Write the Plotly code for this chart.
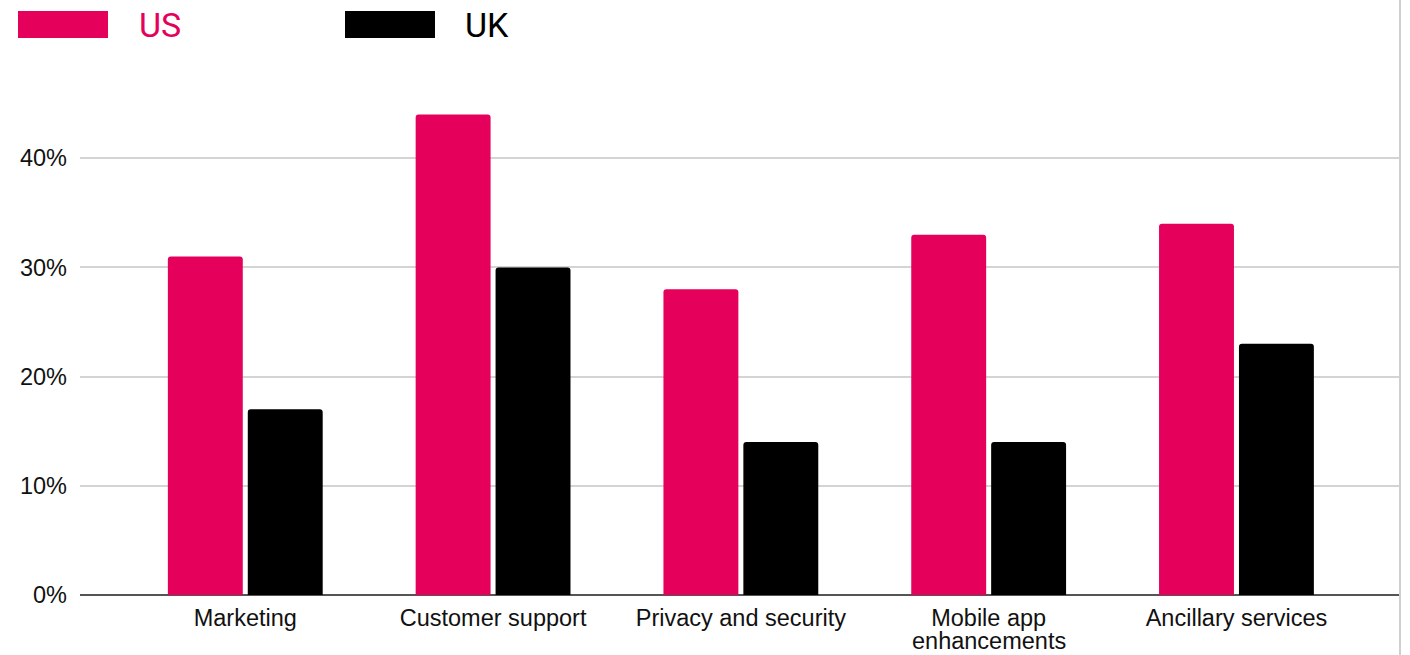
import plotly.graph_objects as go

categories = ["Marketing", "Customer support", "Privacy and security",
              "Mobile app enhancements", "Ancillary services"]
x_ticklines_1 = ["Marketing", "Customer support", "Privacy and security",
                 "Mobile app", "Ancillary services"]
x_ticklines_2 = ["", "", "", "enhancements", ""]
us_values = [0.31, 0.44, 0.28, 0.33, 0.34]
uk_values = [0.17, 0.30, 0.14, 0.14, 0.23]
series_names = ["US", "UK"]
y_tickvals = [0, 0.1, 0.2, 0.3, 0.4]
y_ticktext = ["0%", "10%", "20%", "30%", "40%"]

PINK = "#E5005B"
BLACK = "#000000"

W, H = 1410, 655
ML, MR, MT, MB = 80, 10, 50, 60
PW = W - ML - MR
PH = H - MT - MB


def px_x(p):
    return (p - ML) / PW


def px_y(p):
    return (H - MB - p) / PH


fig = go.Figure()
fig.add_trace(go.Bar(x=categories, y=us_values, name=series_names[0],
                     marker=dict(color=PINK, cornerradius=3, line=dict(width=0)),
                     showlegend=False))
fig.add_trace(go.Bar(x=categories, y=uk_values, name=series_names[1],
                     marker=dict(color=BLACK, cornerradius=3, line=dict(width=0)),
                     showlegend=False))

shapes = [
    dict(type="rect", xref="paper", yref="paper", x0=px_x(18), x1=px_x(108),
         y0=px_y(38), y1=px_y(11), fillcolor=PINK, line=dict(width=0)),
    dict(type="rect", xref="paper", yref="paper", x0=px_x(345), x1=px_x(435),
         y0=px_y(38), y1=px_y(11), fillcolor=BLACK, line=dict(width=0)),
    dict(type="line", xref="paper", yref="paper", x0=1, x1=1,
         y0=px_y(0), y1=px_y(H), line=dict(color="#cfcfcf", width=2)),
]
annotations = [
    dict(text=series_names[0], xref="paper", yref="paper", x=px_x(137), y=px_y(25),
         xanchor="left", yanchor="middle", showarrow=False,
         font=dict(family="Roboto", size=34, color=PINK)),
    dict(text=series_names[1], xref="paper", yref="paper", x=px_x(463), y=px_y(25),
         xanchor="left", yanchor="middle", showarrow=False,
         font=dict(family="Roboto", size=34, color=BLACK)),
]
for cat, line2 in zip(categories, x_ticklines_2):
    if line2:
        annotations.append(dict(text=line2, xref="x", yref="paper", x=cat,
                                y=px_y(641), xanchor="center", yanchor="middle",
                                showarrow=False,
                                font=dict(size=23.5, color="#111111")))

fig.update_layout(
    width=W, height=H,
    margin=dict(l=ML, r=MR, t=MT, b=MB, autoexpand=False),
    paper_bgcolor="white", plot_bgcolor="white",
    barmode="group", bargap=0.355, bargroupgap=0.0625,
    font=dict(family="Liberation Sans, Arial", size=23, color="#222222"),
    shapes=shapes, annotations=annotations,
    showlegend=False,
)
fig.update_xaxes(range=[-0.667, 4.66], showgrid=False, showline=False,
                 tickmode="array", tickvals=categories, ticktext=x_ticklines_1,
                 ticks="", tickfont=dict(size=23.5, color="#111111"),
                 automargin=False, ticklabelstandoff=6,
                 fixedrange=True)
fig.update_yaxes(range=[0, (H - MB - MT) / 1092.0], tickvals=y_tickvals,
                 ticktext=y_ticktext, showgrid=True, gridcolor="#d4d4d4",
                 gridwidth=1.5, zeroline=True, zerolinecolor="#555555",
                 zerolinewidth=1.5, showline=False, ticks="",
                 ticklabelstandoff=12, automargin=False,
                 tickfont=dict(size=23.5, color="#111111"), fixedrange=True)

fig.write_html("out.html")
